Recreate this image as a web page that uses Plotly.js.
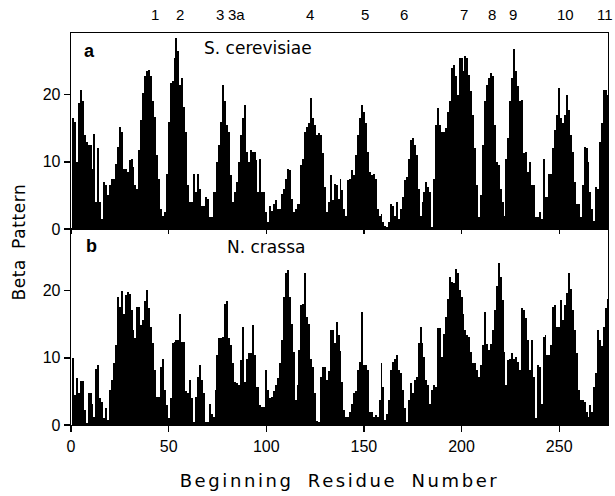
<!DOCTYPE html>
<html>
<head>
<meta charset="utf-8">
<script src="https://cdn.plot.ly/plotly-3.0.1.min.js"></script>
<style>
  html, body { margin: 0; padding: 0; background: #fff; }
  #chart { width: 615px; height: 496px; }
  #chart text.x2title { letter-spacing: 2.6px; word-spacing: 6px; }
  #chart g.annotation[data-index="0"] text { letter-spacing: 0.6px; word-spacing: 4px; }
</style>
</head>
<body>
<div id="chart"></div>
<script>
// Beta pattern per beginning residue, S. cerevisiae (panel a), residues 1..275
const topVals = [
  16.5,16,10,18.7,20.7,19,14,13,12.5,12.5,
  9,14.2,4,12,4,1.5,7,6.5,5,6.5,
  7.5,7.5,9.75,12.25,15.25,14.5,9,9,8.5,10.25,
  10.5,9.25,6.5,6,11.75,16.25,20.25,22.75,23.5,23.75,
  22.75,19,16.75,11,7.5,3,2,2.5,8.25,16,
  21.75,22,25.5,28.5,26.5,21.5,22.5,18.25,14.5,6.5,
  4,4,8.25,5.5,8.25,6,3.5,3.5,4.75,4.5,
  1.75,1.75,5.5,5.5,10,12.5,16,21.5,19,15.5,
  14.5,8,4,5.5,7,10,14,16.5,18.5,11.5,
  10,11.75,11.5,11.5,10.25,5.5,10.5,5.5,5.5,2.5,
  1,3.5,2.75,3.75,4.25,3,3,5.25,6,7.5,
  9,8.75,4.5,2.5,3,3.75,3.75,9.5,10.5,14.5,
  15.25,15.75,19.5,16.5,15.5,14,14.25,14,11.25,6.25,
  2.5,4,8,4.25,6.75,6.5,4.5,7.5,5.75,3,
  2,7.25,7.5,8.75,8,11,14,16.5,18.5,17.5,
  15.75,11.5,8.5,8,8.25,7.5,3,2,2.25,1,
  0.5,0.25,1,3.75,3.5,2,4,1.5,3,4.75,
  7.25,7.75,10.5,13.25,13.5,12.5,11,6,2,4,
  5.5,7,6.25,5.5,0.25,7.5,15.5,18,15.5,14.5,
  14.5,15,17.5,19,24,24.5,22.75,20,25.5,25.5,
  23.5,25.75,25.5,23,20.5,17,12,6.5,1.75,5,
  12.5,19,21.5,22.5,23.25,22.75,15.5,10,9.5,6,
  4,2,10.5,13.5,19,22.5,26.75,23.5,21.25,19,
  19.25,11.25,11.5,8.5,10,6.5,6.5,1.75,1.75,2.5,
  1.5,10.5,4.75,4.75,8.25,8.25,12,14.75,17,21,
  16.5,15.75,17,20,17.75,14,11.5,7,3.75,3.75,
  1.75,6.5,12.25,12,10,5.5,3,1.25,6.25,6,
  13,15.75,20.75,20.75,20
];

// Beta pattern per beginning residue, N. crassa (panel b), residues 1..275
const bottomVals = [
  10,4.5,7,4.7,6.5,6.5,2.2,0.25,4.8,4.8,
  3.2,1.2,8.4,8.9,4,3.5,1,2.5,0.75,5.2,
  6.7,9.2,11.9,19.1,17.6,20,16.6,19.3,19.8,19.5,
  17.1,14.1,12.9,17.6,17.6,14.9,15.6,18.4,20.1,17.4,
  14.6,12.2,8.2,4.2,4.2,8.7,9.9,5.2,3,1,
  4,12.2,12.3,12.6,12.6,16.6,12.4,12.4,5,4.7,
  6.7,4,0.5,4.2,7.2,8.9,6.7,4.7,0.5,0.5,
  3.2,1.7,1.2,5.2,10.4,12.9,12.9,13.1,18.1,18.4,
  12.9,11.9,9.2,6.4,6.2,6,9.7,14.6,6.4,9.9,
  10.7,10.7,14.9,10.4,5.7,5.7,3,2.7,2.7,8.2,
  5.2,4,4.2,5,6,7,9.3,12.6,19,22.6,
  23.1,19.1,15.1,10.9,3.7,6,11.2,17.9,18.1,22.6,
  16.1,15.1,9.9,8.7,4.7,0.6,0.5,7.2,8.7,8.7,
  6.7,8,14.1,14.1,12.2,15.4,13.4,11,6.4,2.2,
  1.2,1.2,2,3.2,4.7,5,8.2,9.4,16.9,8.9,
  8.9,8.2,2,2,1.2,1.5,1.2,3.7,9.2,5.7,
  0.75,1.7,3.7,8.2,9.4,9.9,10.4,8.2,7.7,5.2,
  2.5,0.5,3.7,6.2,4.7,6.7,7.2,12.2,14.6,12.2,
  10.2,6.7,6,3.2,5.2,6,5.7,14.4,14.4,10.2,
  13.6,16.1,18.8,22.1,21.3,21.1,23.3,22.6,20.1,19.1,
  16.6,14.1,13.4,13.1,10.9,9.2,9.2,8.2,7.2,9,
  11.9,16.9,12,11.2,12,14.1,17.1,20.7,24.1,22.1,
  18.6,10.9,6,9.7,9.9,10.7,9.9,10.2,9.4,8.2,
  17.4,17.1,15.9,12.6,8.2,12.6,7.2,1,8.9,8.7,
  3.2,13.1,13.4,10.4,10.4,11.9,17.6,17.9,14.6,14.6,
  18.6,15.6,17.9,19.6,22.6,20.3,17.1,14.1,10.7,5.2,
  3.7,3.7,3.5,2,1.2,3,2,5.7,7.7,14.1,
  12.6,11.7,14.6,17.4,18.8
];

// Segment labels above panel a and the residue where each sits
const segmentLabels = ['1','2','3','3a','4','5','6','7','8','9','10','11'];
const segmentResidues = [43.2, 56, 76.5, 85, 122.5, 150.7, 170.3, 201, 215.5, 226.6, 253.1, 273.5];

const xTicks = [0, 50, 100, 150, 200, 250];
const yTicks = [0, 10, 20];

const residuesTop = topVals.map((_, k) => k + 1);
const residuesBottom = bottomVals.map((_, k) => k + 1);

const FONT = 'Liberation Sans, Arial, sans-serif';
const WIDE = 'DejaVu Sans, Verdana, sans-serif';

const traces = [
  { type: 'bar', x: residuesTop, y: topVals, xaxis: 'x', yaxis: 'y',
    marker: { color: '#000', line: { width: 0 } }, hoverinfo: 'skip' },
  { type: 'bar', x: residuesBottom, y: bottomVals, xaxis: 'x2', yaxis: 'y2',
    marker: { color: '#000', line: { width: 0 } }, hoverinfo: 'skip' }
];

const axisCommon = {
  showline: true, mirror: true, linecolor: '#000', linewidth: 1.3,
  showgrid: false, zeroline: false, ticks: 'outside', tickcolor: '#000',
  tickwidth: 1.3, ticklen: 6, tickfont: { family: FONT, size: 16, color: '#000' }
};

const layout = {
  width: 615, height: 496,
  margin: { l: 71, r: 7, t: 33, b: 71 },
  paper_bgcolor: '#fff', plot_bgcolor: '#fff',
  showlegend: false, bargap: 0,
  font: { family: FONT, color: '#000' },
  xaxis: Object.assign({}, axisCommon, {
    domain: [0, 1], anchor: 'y', range: [0, 275], tickvals: xTicks,
    showticklabels: false, ticklen: 4
  }),
  xaxis2: Object.assign({}, axisCommon, {
    domain: [0, 1], anchor: 'y2', range: [0, 275], tickvals: xTicks,
    title: { text: 'Beginning Residue Number', font: { family: WIDE, size: 18, color: '#000' }, standoff: 21 }
  }),
  yaxis: Object.assign({}, axisCommon, {
    domain: [0.5, 1], anchor: 'x', range: [0, 29.2], tickvals: yTicks
  }),
  yaxis2: Object.assign({}, axisCommon, {
    domain: [0, 0.5], anchor: 'x2', range: [0, 29.2], tickvals: yTicks
  }),
  annotations: []
};

// Y title shared by both panels
layout.annotations.push({
  text: 'Beta Pattern', xref: 'paper', yref: 'paper', x: -0.098, y: 0.468,
  xanchor: 'center', yanchor: 'middle', textangle: -90, showarrow: false,
  font: { family: WIDE, size: 17, color: '#000' }
});

// Panel labels
layout.annotations.push(
  { text: '<b>a</b>', xref: 'paper', yref: 'paper', x: 0.021, y: 0.955, xanchor: 'left', yanchor: 'middle',
    showarrow: false, font: { family: FONT, size: 18, color: '#000' } },
  { text: 'S. cerevisiae', xref: 'paper', yref: 'paper', x: 0.244, y: 0.963, xanchor: 'left', yanchor: 'middle',
    showarrow: false, font: { family: WIDE, size: 17, color: '#000' } },
  { text: '<b>b</b>', xref: 'paper', yref: 'paper', x: 0.024, y: 0.457, xanchor: 'left', yanchor: 'middle',
    showarrow: false, font: { family: FONT, size: 18, color: '#000' } },
  { text: 'N. crassa', xref: 'paper', yref: 'paper', x: 0.287, y: 0.455, xanchor: 'left', yanchor: 'middle',
    showarrow: false, font: { family: WIDE, size: 17, color: '#000' } }
);

// Segment labels on top
segmentLabels.forEach((lab, k) => {
  layout.annotations.push({
    text: lab, xref: 'x', yref: 'paper', x: segmentResidues[k], y: 1.047,
    xanchor: 'center', yanchor: 'middle', showarrow: false,
    font: { family: FONT, size: 15, color: '#000' }
  });
});

Plotly.newPlot('chart', traces, layout, { staticPlot: true, displayModeBar: false });
</script>
</body>
</html>
